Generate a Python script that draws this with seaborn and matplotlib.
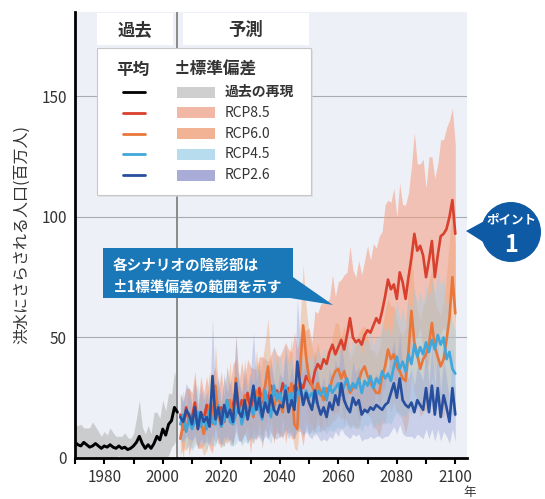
import matplotlib
matplotlib.use("Agg")
import numpy as np
import pandas as pd
import matplotlib.pyplot as plt
import seaborn as sns
from matplotlib.patches import Rectangle, Circle, Polygon
from matplotlib.lines import Line2D

# ---- data: people exposed to floods (million) ----
past_years = list(range(1970, 2006))
past_mean = [6.5, 5.5, 5.0, 6.5, 5.5, 4.5, 5.0, 6.0, 5.0, 4.0,
             5.0, 4.5, 5.5, 4.5, 4.0, 5.0, 4.0, 4.5, 3.5, 4.0,
             5.0, 6.5, 9.0, 6.0, 4.0, 5.5, 4.0, 6.0, 9.0, 7.5,
             12.0, 9.5, 14.0, 15.5, 21.0, 19.0]
past_std = [7, 8, 9, 6, 7, 8, 10, 7, 6, 5,
            6, 5, 7, 6, 5, 4, 5, 6, 5, 4,
            5, 10, 15, 7, 6, 8, 6, 13, 10, 9,
            12, 10, 13, 11, 15, 10]

future_years = list(range(2006, 2101))
rcp85_mean = [18, 12, 21, 15, 17, 23, 13, 19, 16, 22,
              14, 18, 26, 17, 21, 15, 24, 18, 22, 28,
              19, 24, 21, 27, 20, 25, 22, 29, 23, 27,
              24, 30, 26, 28, 25, 31, 27, 29, 26, 30,
              28, 31, 29, 34, 32, 30, 36, 39, 37, 41,
              39, 44, 47, 43, 46, 49, 45, 51, 58, 50,
              48, 49, 47, 51, 53, 52, 55, 58, 56, 61,
              67, 74, 70, 72, 66, 77, 73, 66, 75, 83,
              93, 86, 88, 84, 75, 82, 90, 75, 84, 92,
              93, 95, 100, 107, 93]
rcp85_std = [9, 12, 8, 14, 10, 13, 9, 15, 11, 12,
             10, 16, 12, 11, 15, 10, 14, 12, 17, 13,
             12, 16, 11, 14, 18, 12, 15, 13, 19, 14,
             16, 13, 20, 15, 17, 14, 21, 16, 18, 22,
             17, 20, 24, 19, 22, 18, 25, 21, 27, 23,
             26, 22, 29, 24, 27, 25, 31, 26, 30, 28,
             27, 33, 29, 31, 35, 30, 34, 29, 36, 33,
             38, 33, 36, 40, 34, 37, 32, 39, 35, 38,
             42, 36, 34, 40, 37, 43, 35, 41, 38, 40,
             39, 42, 40, 38, 37]

rcp60_mean = [8, 14, 11, 18, 13, 20, 12, 16, 10, 15,
              22, 14, 30, 18, 13, 20, 17, 24, 15, 33,
              21, 16, 26, 19, 22, 17, 28, 21, 25, 30,
              38, 24, 20, 27, 23, 19, 29, 25, 31, 14,
              12, 38, 55, 42, 33, 30, 27, 31, 27, 24,
              29, 28, 33, 36, 37, 33, 36, 31, 27, 29,
              30, 32, 36, 38, 34, 31, 29, 27, 27, 34,
              38, 45, 41, 43, 38, 36, 33, 32, 44, 61,
              48, 43, 37, 41, 43, 47, 56, 46, 42, 38,
              41, 49, 58, 75, 60]
rcp60_std = [7, 10, 8, 12, 9, 13, 8, 11, 9, 12,
             14, 10, 17, 12, 9, 13, 11, 16, 10, 18,
             13, 10, 15, 12, 14, 11, 17, 13, 15, 18,
             20, 14, 12, 16, 13, 11, 17, 15, 19, 10,
             9, 20, 25, 21, 18, 16, 15, 17, 14, 13,
             16, 15, 18, 20, 19, 17, 19, 16, 14, 15,
             17, 20, 18, 17, 16, 14, 16, 15, 18, 20,
             23, 21, 22, 20, 19, 17, 18, 22, 28, 24,
             21, 19, 20, 22, 23, 26, 22, 20, 19, 21,
             24, 27, 32, 30, 28]

rcp45_mean = [14, 18, 11, 16, 12, 15, 19, 13, 17, 12,
              20, 15, 14, 22, 13, 16, 24, 15, 14, 18,
              22, 14, 19, 17, 22, 18, 25, 20, 16, 28,
              22, 17, 30, 24, 27, 22, 30, 24, 27, 22,
              26, 29, 24, 28, 25, 27, 23, 28, 26, 29,
              24, 30, 27, 29, 31, 26, 30, 33, 28, 31,
              29, 33, 27, 32, 30, 34, 29, 33, 31, 36,
              33, 35, 32, 38, 42, 37, 40, 36, 43, 39,
              47, 42, 46, 43, 48, 44, 49, 45, 51, 47,
              50, 41, 44, 37, 35]
rcp45_std = [8, 10, 7, 11, 9, 10, 12, 8, 11, 9,
             12, 10, 9, 13, 8, 11, 14, 10, 9, 12,
             14, 9, 12, 11, 13, 12, 15, 12, 10, 16,
             14, 11, 17, 14, 16, 13, 17, 14, 16, 13,
             15, 17, 14, 16, 15, 16, 14, 17, 15, 17,
             14, 18, 16, 17, 18, 15, 17, 19, 16, 18,
             17, 19, 16, 18, 17, 19, 17, 18, 18, 20,
             19, 20, 18, 21, 23, 20, 22, 19, 23, 21,
             24, 22, 23, 21, 24, 22, 25, 23, 26, 24,
             25, 21, 22, 19, 18]

rcp26_mean = [17, 15, 20, 18, 14, 21, 12, 19, 15, 17,
              13, 34, 16, 21, 14, 22, 17, 20, 15, 31,
              19, 17, 24, 16, 22, 30, 20, 25, 17, 23,
              19, 26, 20, 18, 22, 21, 28, 19, 24, 20,
              40, 30, 22, 27, 23, 20, 28, 22, 18, 21,
              17, 23, 20, 26, 22, 31, 24, 21, 19, 25,
              22, 24, 18, 20, 19, 21, 20, 22, 21, 20,
              22, 23, 27, 31, 25, 33, 24, 22, 21, 23,
              19, 24, 22, 20, 29, 19, 30, 18, 29, 17,
              26, 21, 15, 29, 18]
rcp26_std = [9, 8, 11, 10, 7, 12, 8, 11, 9, 10,
             8, 24, 10, 12, 9, 13, 10, 12, 9, 20,
             12, 10, 14, 10, 13, 22, 12, 15, 10, 14,
             11, 15, 12, 10, 13, 12, 16, 11, 14, 12,
             26, 18, 13, 16, 14, 12, 17, 13, 11, 13,
             10, 14, 12, 15, 13, 18, 14, 12, 11, 15,
             13, 14, 11, 12, 11, 12, 12, 13, 12, 12,
             13, 14, 16, 18, 15, 19, 14, 13, 12, 14,
             11, 14, 13, 12, 17, 11, 18, 11, 17, 10,
             15, 12, 9, 17, 11]

scenarios = ["RCP8.5", "RCP6.0", "RCP4.5", "RCP2.6"]
scenario_means = [rcp85_mean, rcp60_mean, rcp45_mean, rcp26_mean]
scenario_stds = [rcp85_std, rcp60_std, rcp45_std, rcp26_std]

line_colors = {"RCP8.5": "#d9402e", "RCP6.0": "#e9773a",
               "RCP4.5": "#3fa7dc", "RCP2.6": "#274f9e"}
band_colors = {"RCP8.5": ("#f39c7e", 0.55), "RCP6.0": ("#f0a06a", 0.40),
               "RCP4.5": ("#9fcfe8", 0.45), "RCP2.6": ("#95a0d4", 0.40)}
legend_patch = {"past": "#cfcfcf", "RCP8.5": "#f2b8a6", "RCP6.0": "#f2b394",
                "RCP4.5": "#b7dcee", "RCP2.6": "#a8acd6"}

future = pd.concat([
    pd.DataFrame({"year": future_years, "mean": m, "std": s, "scenario": name})
    for name, m, s in zip(scenarios, scenario_means, scenario_stds)
], ignore_index=True)
past = pd.DataFrame({"year": past_years, "mean": past_mean, "std": past_std})

# ---- style ----
sns.set_theme(style="white")
plt.rcParams["font.family"] = ["Noto Sans CJK JP", "DejaVu Sans"]
TXT = "#333333"

fig = plt.figure(figsize=(5.45, 4.99), dpi=100)
fig.patch.set_facecolor("white")
ax = fig.add_axes([75 / 545, 1 - 458 / 499, 392 / 545, 446 / 499])
ax.set_facecolor("#eef0f7")

# ±1 standard deviation bands
ax.fill_between(past["year"], np.clip(past["mean"] - past["std"], 0, None),
                past["mean"] + past["std"], color="#bdbdbd", alpha=0.7,
                lw=0, zorder=1)
for name in scenarios:
    d = future[future["scenario"] == name]
    col, a = band_colors[name]
    ax.fill_between(d["year"], np.clip(d["mean"] - d["std"], 0, None),
                    d["mean"] + d["std"], color=col, alpha=a, lw=0, zorder=1)

ax.axvline(2005, color="#8a8a8a", lw=1.4, zorder=2)

# mean lines
sns.lineplot(data=past, x="year", y="mean", color="black", linewidth=2.1,
             ax=ax, zorder=3, errorbar=None)
sns.lineplot(data=future, x="year", y="mean", hue="scenario",
             hue_order=scenarios, palette=line_colors, linewidth=1.9,
             legend=False, ax=ax, zorder=3, errorbar=None, estimator=None)

ax.set_xlim(1970, 2104)
ax.set_ylim(0, 185)
ax.set_yticks([0, 50, 100, 150])
ax.set_xticks(range(1980, 2101, 20))
ax.set_xticks(range(1970, 2100, 20), minor=True)
ax.yaxis.grid(True, color="#a9abb3", lw=0.8)
ax.set_axisbelow(True)
for side in ("top", "right"):
    ax.spines[side].set_visible(False)
for side in ("left", "bottom"):
    ax.spines[side].set_color("black")
    ax.spines[side].set_linewidth(2.0)
ax.tick_params(axis="x", which="both", direction="out", length=4, width=1.5,
               color="black", bottom=True, labelsize=11, labelcolor=TXT, pad=4)
ax.tick_params(axis="y", length=0, labelsize=11, labelcolor=TXT, pad=6)
ax.set_xlabel("")
ax.set_ylabel("洪水にさらされる人口(百万人)", fontsize=11.5, color=TXT, labelpad=8)

# ---- annotation layer in pixel coordinates ----
ov = fig.add_axes([0, 0, 1, 1])
ov.set_xlim(0, 545)
ov.set_ylim(499, 0)
ov.axis("off")
ov.patch.set_alpha(0)

# period headers
ov.add_patch(Rectangle((97, 13), 76, 32, fc="white", ec="none"))
ov.add_patch(Rectangle((183, 13), 126, 32, fc="white", ec="none"))
ov.text(135, 30, "過去", ha="center", va="center", fontsize=12.5,
        fontweight="bold", color=TXT)
ov.text(246, 30, "予測", ha="center", va="center", fontsize=12.5,
        fontweight="bold", color=TXT)

# legend
ov.add_patch(Rectangle((99, 50), 214, 147, fc="#d8d8d8", ec="none", alpha=0.6))
ov.add_patch(Rectangle((97, 48), 214, 147, fc="white", ec="#c8c8c8", lw=0.8))
ov.text(133, 70, "平均", ha="center", va="center", fontsize=12,
        fontweight="bold", color=TXT)
ov.text(174, 70, "±標準偏差", ha="left", va="center", fontsize=12,
        fontweight="bold", color=TXT)
rows = [("過去の再現", "black", legend_patch["past"])] + [
    (n, line_colors[n], legend_patch[n]) for n in scenarios]
for i, (lab, lc, pc) in enumerate(rows):
    y = 92 + i * 20.8
    ov.add_line(Line2D([123, 145], [y, y], color=lc, lw=2.0))
    ov.add_patch(Rectangle((177, y - 5.5), 38, 11, fc=pc, ec="none"))
    ov.text(225, y, lab, ha="left", va="center", fontsize=10, color=TXT,
            fontweight="bold" if i == 0 else "normal")

# shaded-band note
BOX = "#1a78b8"
ov.add_patch(Polygon([(280, 268), (290, 298), (333, 305)], closed=True,
                     fc=BOX, ec="none"))
ov.add_patch(Rectangle((103, 248), 190, 50, fc=BOX, ec="none"))
ov.text(113, 265, "各シナリオの陰影部は", ha="left", va="center",
        fontsize=10.5, fontweight="bold", color="white")
ov.text(113, 287, "±1標準偏差の範囲を示す", ha="left", va="center",
        fontsize=10.5, fontweight="bold", color="white")

# point marker
PT = "#0e5aa5"
ov.add_patch(Polygon([(466, 231), (488, 219), (488, 245)], closed=True,
                     fc=PT, ec="none"))
ov.add_patch(Circle((511, 232), 30, fc=PT, ec="none"))
ov.text(511, 220, "ポイント", ha="center", va="center", fontsize=9,
        fontweight="bold", color="white")
ov.text(511, 245, "1", ha="center", va="center", fontsize=17,
        fontweight="bold", color="white")

ov.text(470, 486, "年", ha="center", va="top", fontsize=9, color=TXT)

fig.savefig("out.png", dpi=100)
